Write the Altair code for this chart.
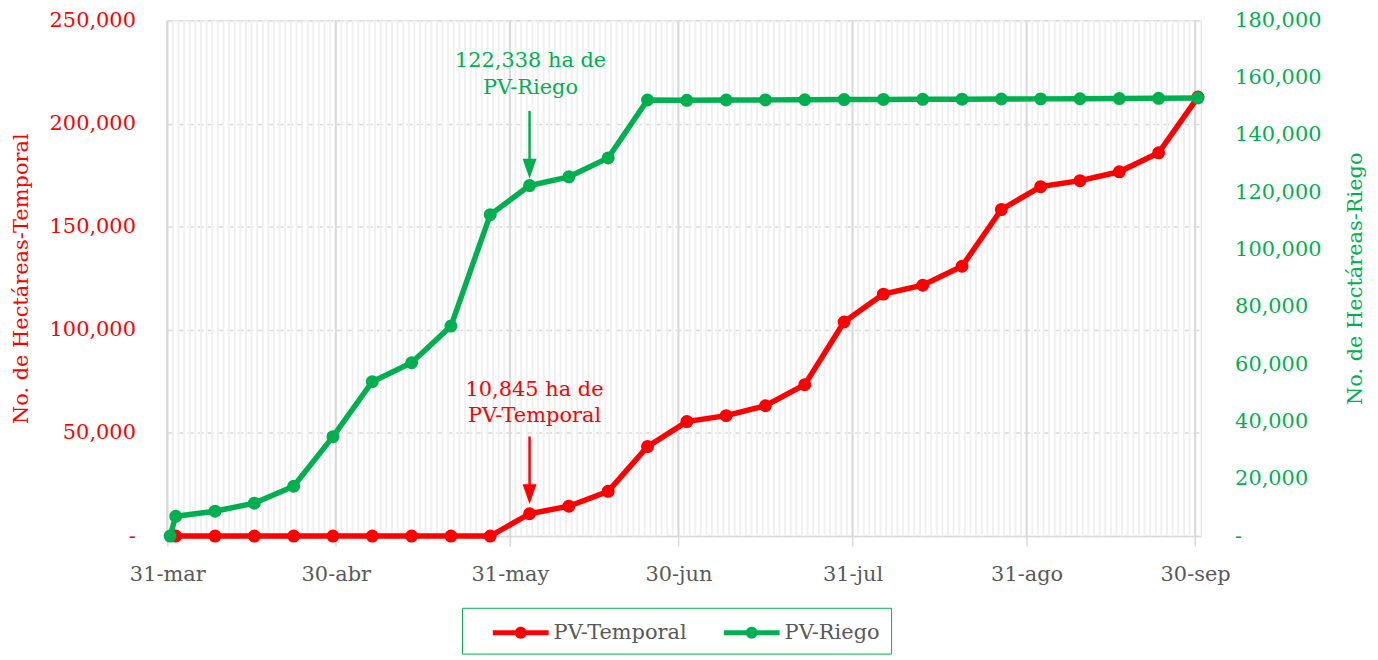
import altair as alt
import pandas as pd

# ---------------- data ----------------
fechas_temporal = [
    "2024-04-01", "2024-04-08", "2024-04-15", "2024-04-22", "2024-04-29",
    "2024-05-06", "2024-05-13", "2024-05-20", "2024-05-27", "2024-06-03",
    "2024-06-10", "2024-06-17", "2024-06-24", "2024-07-01", "2024-07-08",
    "2024-07-15", "2024-07-22", "2024-07-29", "2024-08-05", "2024-08-12",
    "2024-08-19", "2024-08-26", "2024-09-02", "2024-09-09", "2024-09-16",
    "2024-09-23", "2024-09-30",
]
temporal = [
    0, 0, 0, 0, 0, 0, 0, 0, 0, 10845,
    14500, 21700, 43400, 55500, 58400, 63200, 73400, 103800, 117300, 121600,
    130800, 158300, 169400, 172300, 176600, 185800, 212800,
]
fechas_riego = ["2024-03-31"] + fechas_temporal
riego = [
    0, 6900, 8700, 11500, 17400, 34700, 53900, 60500, 73300, 112200,
    122338, 125400, 132000, 152200, 152100, 152200, 152250, 152300, 152350,
    152400, 152450, 152500, 152550, 152600, 152650, 152700, 152800, 152900,
]
series = ["PV-Temporal", "PV-Riego"]
meses = ["ene", "feb", "mar", "abr", "may", "jun", "jul", "ago", "sep", "oct", "nov", "dic"]
fechas_mayores = ["2024-03-31", "2024-04-30", "2024-05-31", "2024-06-30",
                  "2024-07-31", "2024-08-31", "2024-09-30"]

# annotations
nota_fecha = "2024-06-03"
nota_riego_texto = ["122,338 ha de", "PV-Riego"]
nota_riego_y = 165700
flecha_riego = [148400, 128200]
nota_temp_texto = ["10,845 ha de", "PV-Temporal"]
nota_temp_y = 70900
flecha_temp = [48300, 20300]

RED = "#FF0000"
GREEN = "#00B050"
GRAY_TXT = "#595959"
FONT = "DejaVu Serif"

def noon(d):
    return d + "T12:00:00"

df_t = pd.DataFrame({"fecha": [noon(d) for d in fechas_temporal], "valor": temporal, "serie": series[0]})
df_r = pd.DataFrame({"fecha": [noon(d) for d in fechas_riego], "valor": riego, "serie": series[1]})
df_minor = pd.DataFrame({"fecha": [d.strftime("%Y-%m-%dT00:00:00") for d in pd.date_range("2024-03-31", "2024-09-30", freq="D")]})
df_major = pd.DataFrame({"fecha": [d + "T00:00:00" for d in fechas_mayores]})

label_expr = "date(datum.value) + '-' + " + str(meses) + "[month(datum.value)]"

X = alt.X(
    "fecha:T",
    scale=alt.Scale(domain=[alt.DateTime(year=2024, month=3, date=31),
                            alt.DateTime(year=2024, month=10, date=1)]),
    axis=alt.Axis(
        values=[alt.DateTime(year=2024, month=int(d[5:7]), date=int(d[8:10])) for d in fechas_mayores],
        labelExpr=label_expr, grid=False, domainColor="#d9d9d9", domainWidth=1.5,
        tickColor="#d9d9d9", tickWidth=1.5, tickSize=10, labelColor=GRAY_TXT,
        labelFontSize=21, labelPadding=18, labelFont=FONT, labelFlush=False, title=None,
    ),
    title=None,
)

left_title = "No. de Hectáreas-Temporal"
right_title = "No. de Hectáreas-Riego"
Y_left = alt.Y(
    "valor:Q",
    scale=alt.Scale(domain=[0, 250000], nice=False),
    axis=alt.Axis(
        values=[0, 50000, 100000, 150000, 200000, 250000],
        labelExpr="datum.value == 0 ? '-' : format(datum.value, ',')",
        labelColor=RED, labelFontSize=21, labelFont=FONT, labelPadding=32,
        ticks=False, domain=False, grid=True, gridColor="#d9d9d9",
        gridDash=[6, 4], gridWidth=1.5, titleColor=RED, titleFontSize=21,
        titleFont=FONT, titleFontWeight="normal", titleX=-146, titleY=259,
        titleAngle=270, titleAlign="center", titleBaseline="middle",
    ),
    title=left_title,
)
Y_right = alt.Y(
    "valor:Q",
    scale=alt.Scale(domain=[0, 180000], nice=False),
    axis=alt.Axis(
        orient="right",
        values=[0, 20000, 40000, 60000, 80000, 100000, 120000, 140000, 160000, 180000],
        labelExpr="datum.value == 0 ? '-' : format(datum.value, ',')",
        labelColor=GREEN, labelFontSize=21, labelFont=FONT, labelPadding=34,
        ticks=False, domain=False, grid=False, titleColor=GREEN, titleFontSize=21,
        titleFont=FONT, titleFontWeight="normal", titleX=155, titleY=259,
        titleAngle=270, titleAlign="center", titleBaseline="middle",
    ),
    title=right_title,
)

color = alt.Color(
    "serie:N",
    scale=alt.Scale(domain=series, range=[RED, GREEN]),
    legend=alt.Legend(
        title=None, orient="none", legendX=296, legendY=590, direction="horizontal",
        symbolType="M-2,-0.18L2,-0.18L2,0.18L-2,0.18Z M0.43,0A0.43,0.43 0 1 1 -0.43,0A0.43,0.43 0 1 1 0.43,0Z",
        symbolSize=784, symbolStrokeWidth=0, symbolOffset=34, labelFontSize=21, labelFont=FONT,
        labelColor=GRAY_TXT, labelOffset=19, columnPadding=17, padding=11,
        strokeColor=GREEN, fillColor="white",
    ),
)

minor = alt.Chart(df_minor).mark_rule(color="#f0f0f0", strokeWidth=2).encode(x=X)
major = alt.Chart(df_major).mark_rule(color="#d9d9d9", strokeWidth=2).encode(x=X)

red_line = alt.Chart(df_t).mark_line(color=RED, strokeWidth=5.5).encode(x=X, y=Y_left)
red_pts = alt.Chart(df_t).mark_point(filled=True, size=170, opacity=1).encode(x=X, y=Y_left, color=color)

df_ta = pd.DataFrame({"fecha": [noon(nota_fecha)], "valor": [flecha_temp[0]], "valor2": [flecha_temp[1]]})
red_arrow = alt.Chart(df_ta).mark_rule(color=RED, strokeWidth=2.5).encode(
    x=X, y=Y_left, y2="valor2:Q")
red_head = alt.Chart(df_ta).mark_point(
    shape="M-0.7,-1L0.7,-1L0,1Z", filled=True, size=400, color=RED, opacity=1
).encode(x=X, y=alt.Y("valor2:Q", scale=alt.Scale(domain=[0, 250000], nice=False), axis=None))
df_tt = pd.DataFrame({"fecha": [noon(nota_fecha)], "valor": [nota_temp_y], "txt": [nota_temp_texto]})
red_text = alt.Chart(df_tt).mark_text(
    color=RED, fontSize=21, font=FONT, lineHeight=26, baseline="middle", align="center", dx=5
).encode(x=X, y=Y_left, text="txt")

green_line = alt.Chart(df_r).mark_line(color=GREEN, strokeWidth=5.5).encode(x=X, y=Y_right)
green_pts = alt.Chart(df_r).mark_point(filled=True, size=170, opacity=1).encode(x=X, y=Y_right, color=color)
df_ra = pd.DataFrame({"fecha": [noon(nota_fecha)], "valor": [flecha_riego[0]], "valor2": [flecha_riego[1]]})
green_arrow = alt.Chart(df_ra).mark_rule(color=GREEN, strokeWidth=2.5).encode(
    x=X, y=Y_right, y2="valor2:Q")
green_head = alt.Chart(df_ra).mark_point(
    shape="M-0.7,-1L0.7,-1L0,1Z", filled=True, size=400, color=GREEN, opacity=1
).encode(x=X, y=alt.Y("valor2:Q", scale=alt.Scale(domain=[0, 180000], nice=False), axis=None))
df_rt = pd.DataFrame({"fecha": [noon(nota_fecha)], "valor": [nota_riego_y], "txt": [nota_riego_texto]})
green_text = alt.Chart(df_rt).mark_text(
    color=GREEN, fontSize=21, font=FONT, lineHeight=27, baseline="middle", align="center", dx=1
).encode(x=X, y=Y_right, text="txt")

left = alt.layer(minor, major, red_line, red_pts, red_arrow, red_text)
right = alt.layer(green_line, green_pts, green_arrow, green_text)

chart = alt.layer(left, right, red_head, green_head).resolve_scale(y="independent").properties(
    width=1038, height=518,
    autosize=alt.AutoSizeParams(type="none"),
    padding={"left": 160, "top": 11, "right": 170, "bottom": 120},
).configure_view(stroke=None).configure(font=FONT)

chart.save("out.html", embed_options={"renderer": "svg", "actions": False})
